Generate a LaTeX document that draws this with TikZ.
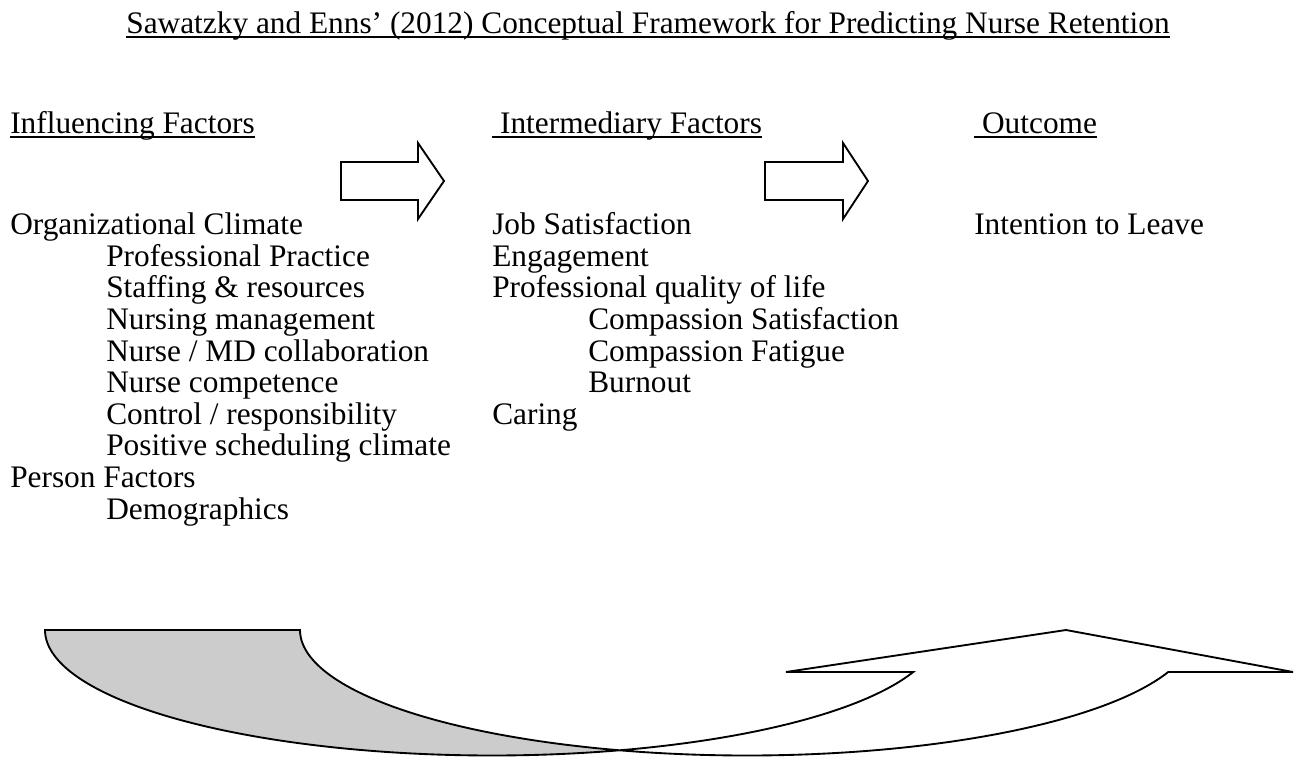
\documentclass[tikz,border=0pt]{standalone}
\usepackage{fontspec}
\setmainfont{Liberation Serif}
\begin{document}
\begin{tikzpicture}[x=0.75pt,y=-0.75pt,
  txt/.style={anchor=base west,inner sep=0pt,font=\fontsize{23.5}{27}\selectfont},
  uline/.style={draw=black,line width=0.9pt},
  shapeline/.style={draw=black,line width=1.4pt,line join=miter}]
\useasboundingbox (0,0) rectangle (1299,757);
% title and headers
\node[txt,anchor=base] (title) at (648,33) {Sawatzky and Enns’ (2012) Conceptual Framework for Predicting Nurse Retention};
\node[txt] (h1) at (10,133) {Influencing Factors};
\node[txt] (h2) at (492,133) {\ Intermediary Factors};
\node[txt] (h3) at (974,133) {\ Outcome};
\foreach \n in {title,h1,h2,h3}
  \draw[uline] ([yshift=-3pt]\n.base west) -- ([yshift=-3pt]\n.base east);
% column 1
\node[txt] (a1) at (10,234) {Organizational Climate};
\node[txt] (a2) at (106,266) {Professional Practice};
\node[txt] (a3) at (106,297) {Staffing \& resources};
\node[txt] (a4) at (106,329) {Nursing management};
\node[txt] (a5) at (106,361) {Nurse / MD collaboration};
\node[txt] (a6) at (106,392) {Nurse competence};
\node[txt] (a7) at (106,424) {Control / responsibility};
\node[txt] (a8) at (106,455) {Positive scheduling climate};
\node[txt] (a9) at (10,487) {Person Factors};
\node[txt] (a10) at (106,519) {Demographics};
% column 2
\node[txt] (b1) at (492,234) {Job Satisfaction};
\node[txt] (b2) at (492,266) {Engagement};
\node[txt] (b3) at (492,297) {Professional quality of life};
\node[txt] (b4) at (588,329) {Compassion Satisfaction};
\node[txt] (b5) at (588,361) {Compassion Fatigue};
\node[txt] (b6) at (588,392) {Burnout};
\node[txt] (b7) at (492,424) {Caring};
% column 3
\node[txt] (c1) at (974,234) {Intention to Leave};
% block arrows
\draw[shapeline,fill=white] (341,162) -- (418,162) -- (418,143) -- (444,181) -- (418,219) -- (418,200) -- (341,200) -- cycle;
\draw[shapeline,fill=white] (765,162) -- (843,162) -- (843,143) -- (868,181) -- (843,219) -- (843,200) -- (765,200) -- cycle;
% curved up arrow: back (gray) part
\draw[shapeline,fill=black!20] (45,630) -- (300,630)
  -- plot[domain=180:106.6,samples=60] ({747+447*cos(\x)},{630+125.5*sin(\x)})
  -- plot[domain=73.4:179,samples=90] ({492+447*cos(\x)},{630+125.5*sin(\x)}) -- cycle;
% front (white) part
\draw[shapeline,fill=white]
  plot[domain=73.4:19.55,samples=60] ({492+447*cos(\x)},{630+125.5*sin(\x)})
  -- (786,672) -- (1066,630) -- (1293,672)
  -- plot[domain=19.55:106.6,samples=90] ({747+447*cos(\x)},{630+125.5*sin(\x)}) -- cycle;
\end{tikzpicture}
\end{document}
